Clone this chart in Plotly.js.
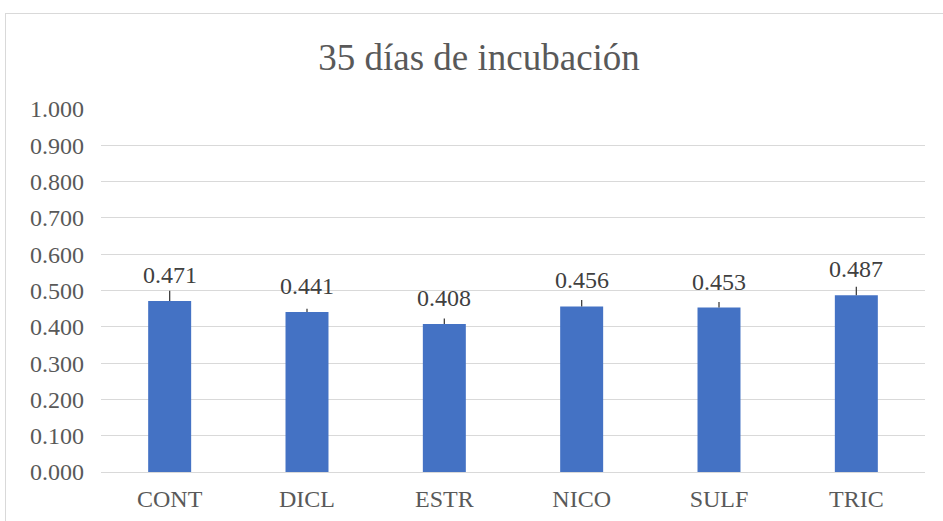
<!DOCTYPE html>
<html>
<head>
<meta charset="utf-8">
<script src="https://cdn.plot.ly/plotly-3.0.1.min.js"></script>
<style>
html,body{margin:0;padding:0;background:#fff;overflow:hidden;}
#wrap{position:relative;width:943px;height:521px;}
#frame{position:absolute;left:5px;top:13px;width:1000px;height:600px;border:1px solid #D9D9D9;box-sizing:border-box;}
#chart{position:absolute;left:0;top:0;width:943px;height:521px;}
</style>
</head>
<body>
<div id="wrap"><div id="frame"></div><div id="chart"></div></div>
<script>
const categories = ["CONT", "DICL", "ESTR", "NICO", "SULF", "TRIC"];
const values = [0.471, 0.441, 0.408, 0.456, 0.453, 0.487];
const errorsPlus = [0.028, 0.009, 0.015, 0.018, 0.015, 0.023];
const errorsMinus = [0, 0, 0, 0, 0, 0];
const titleText = "35 días de incubación";

const font = "Liberation Serif, Times New Roman, serif";
const textColor = "#595959";

const trace = {
  type: "bar",
  x: categories,
  y: values,
  marker: {color: "#4472C4"},
  error_y: {
    type: "data",
    symmetric: false,
    array: errorsPlus,
    arrayminus: errorsMinus,
    color: "#404040",
    thickness: 1.3,
    width: 0
  },
  hoverinfo: "none"
};

const annotations = categories.map((c, i) => ({
  x: c, y: values[i], xref: "x", yref: "y",
  text: values[i].toFixed(3),
  showarrow: false, yanchor: "bottom", yshift: 11,
  font: {family: font, size: 24, color: "#404040"}
}));

const layout = {
  width: 943, height: 521,
  margin: {l: 101, r: 18, t: 109, b: 49},
  paper_bgcolor: "rgba(0,0,0,0)",
  plot_bgcolor: "rgba(0,0,0,0)",
  title: {text: titleText, x: 0.508, xanchor: "center", y: 0.89, yanchor: "middle",
          font: {family: font, size: 37, color: textColor}},
  bargap: 0.687,
  showlegend: false,
  xaxis: {
    showgrid: false, zeroline: false, showline: false, ticks: "",
    ticklabelstandoff: 10,
    tickfont: {family: font, size: 24, color: textColor}
  },
  yaxis: {
    range: [0, 1], dtick: 0.1, tickformat: ".3f",
    showgrid: true, gridcolor: "#D9D9D9", gridwidth: 1,
    zeroline: true, zerolinecolor: "#D9D9D9", zerolinewidth: 1,
    showline: false, ticks: "", ticklabelstandoff: 16,
    tickfont: {family: font, size: 24, color: textColor}
  },
  annotations: annotations
};

Plotly.newPlot("chart", [trace], layout, {displayModeBar: false, staticPlot: true});
</script>
</body>
</html>
